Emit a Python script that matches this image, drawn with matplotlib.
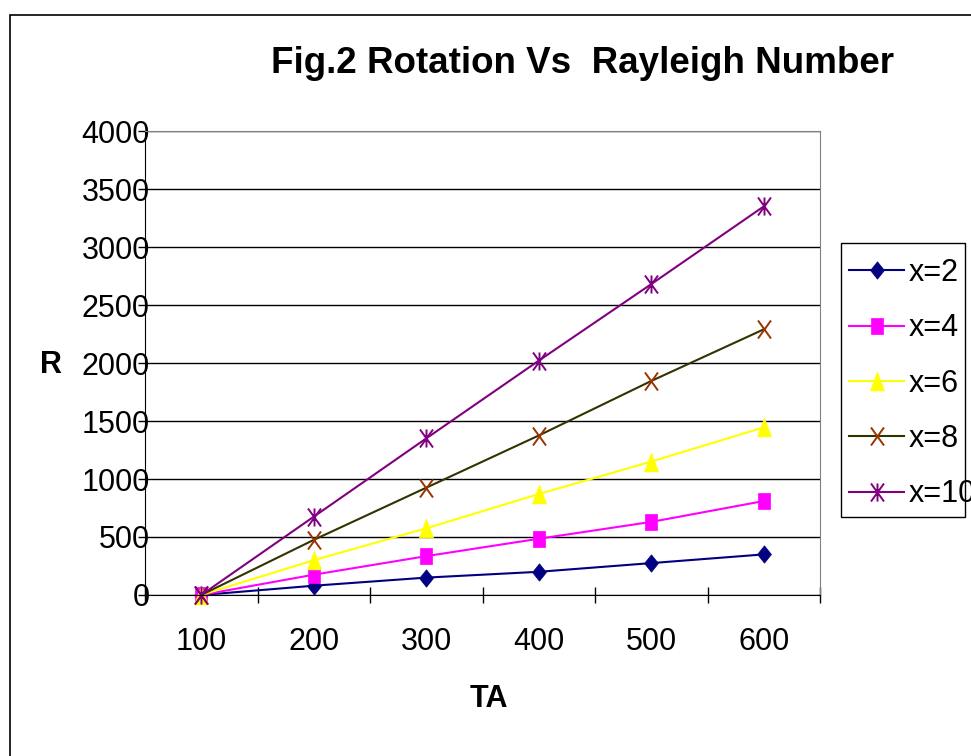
import numpy as np
import matplotlib.pyplot as plt
from matplotlib.path import Path
from matplotlib.patches import Rectangle

plt.rcParams['font.family'] = ['Liberation Sans', 'DejaVu Sans']

ta = [100, 200, 300, 400, 500, 600]
r_x2 = [0, 80, 150, 200, 275, 350]
r_x4 = [0, 175, 335, 485, 630, 810]
r_x6 = [0, 300, 575, 870, 1150, 1445]
r_x8 = [0, 475, 925, 1375, 1845, 2290]
r_x10 = [0, 675, 1350, 2020, 2680, 3350]
series_names = ['x=2', 'x=4', 'x=6', 'x=8', 'x=10']

# excel markers look a bit taller than wide in the reference
M, L, C = Path.MOVETO, Path.LINETO, Path.CLOSEPOLY
diamond = Path([(0, 1), (0.8, 0), (0, -1), (-0.8, 0), (0, 1)], [M, L, L, L, C])
square = Path([(-0.7, -1), (0.7, -1), (0.7, 1), (-0.7, 1), (-0.7, -1)], [M, L, L, L, C])
tri = Path([(0, 1), (0.75, -1), (-0.75, -1), (0, 1)], [M, L, L, C])
cross = Path([(-0.72, -1), (0.72, 1), (-0.72, 1), (0.72, -1)], [M, L, M, L])
star = Path([(-0.72, -1), (0.72, 1), (-0.72, 1), (0.72, -1), (0, -1), (0, 1)], [M, L, M, L, M, L])

styles = [
    dict(color='#000080', marker=diamond, ms=12.5, mfc='#000080', mec='#000080', mew=0.5),
    dict(color='#FF00FF', marker=square, ms=11.5, mfc='#FF00FF', mec='#FF00FF', mew=0.5),
    dict(color='#FFFF00', marker=tri, ms=13.5, mfc='#FFFF00', mec='#FFFF00', mew=0.5),
    dict(color='#333300', marker=cross, ms=13, mfc='none', mec='#993300', mew=1.4),
    dict(color='#800080', marker=star, ms=13, mfc='none', mec='#800080', mew=1.4),
]

W, H = 971, 756
fig = plt.figure(figsize=(W / 100, H / 100), dpi=100)
fig.patch.set_facecolor('white')

# outer chart border (runs off the right and bottom edge)
fig.patches.append(Rectangle((10 / W, -0.2), 1.2, 1 - 15 / H + 0.2, transform=fig.transFigure,
                             fill=False, edgecolor='black', lw=1.2, zorder=-2))
# legend box, drawn behind the axes so the legend entries sit on top
fig.patches.append(Rectangle((841 / W, 1 - 517 / H), 124 / W, 274 / H, transform=fig.transFigure,
                             facecolor='white', edgecolor='black', lw=1, zorder=-1))

ax = fig.add_axes([145 / W, 1 - 595 / H, 675 / W, 464 / H])
xs = np.arange(len(ta))
for vals, name, st in zip([r_x2, r_x4, r_x6, r_x8, r_x10], series_names, styles):
    ax.plot(xs, vals, lw=1.5, label=name, clip_on=False, **st)

ax.set_xlim(-0.5, len(ta) - 0.5)
ax.set_ylim(0, 4000)
ax.set_yticks(np.arange(0, 4001, 500))
ax.set_xticks(xs, [str(t) for t in ta])
ax.set_xticks(np.arange(-0.5, len(ta)), minor=True)
ax.tick_params(axis='x', which='major', length=0, pad=23, labelsize=22)
ax.tick_params(axis='x', which='minor', direction='inout', length=12, width=1)
ax.tick_params(axis='y', direction='out', length=5, width=1, pad=-8.5, labelsize=22)
for lab in ax.get_yticklabels():
    lab.set_horizontalalignment('right')

ax.grid(axis='y', color='black', lw=1)
ax.set_axisbelow(True)
for side in ['top', 'right']:
    ax.spines[side].set_color('#808080')
ax.spines['left'].set_color('black')
ax.spines['bottom'].set_color('black')

fig.text(582 / W, 1 - 73 / H, 'Fig.2 Rotation Vs  Rayleigh Number', ha='center', va='baseline',
         fontsize=26.5, fontweight='bold')
fig.text(51 / W, 1 - 365 / H, 'R', ha='center', va='center', fontsize=22, fontweight='bold')
fig.text(489 / W, 1 - 699 / H, 'TA', ha='center', va='center', fontsize=22, fontweight='bold')

# the last label runs past the box and the picture edge, as in the reference
leg = ax.legend(loc='upper left', bbox_to_anchor=(849 / W, 1 - 258 / H),
                bbox_transform=fig.transFigure, frameon=False, fontsize=22,
                handlelength=1.8, handletextpad=0.15, labelspacing=0.83, borderpad=0,
                borderaxespad=0)

fig.savefig('out.png', dpi=100)
